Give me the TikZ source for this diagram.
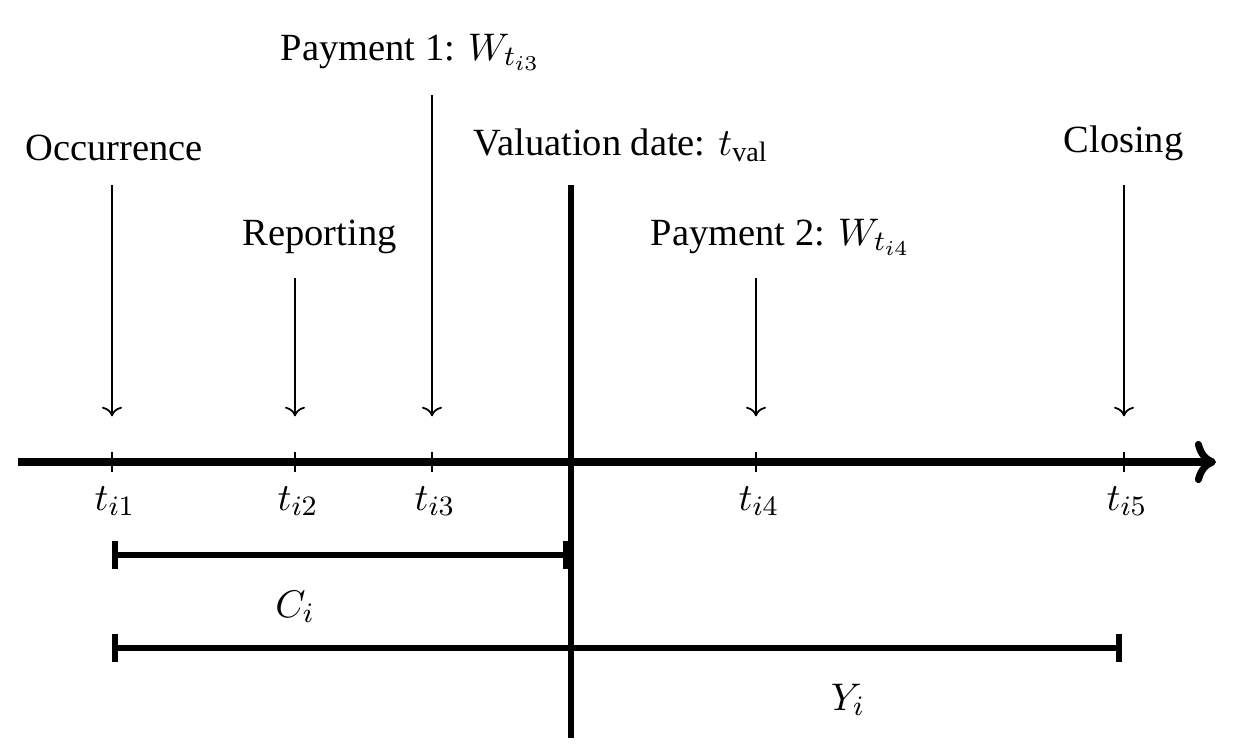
\documentclass[11pt,tikz,border=0pt]{standalone}
\usepackage{amsmath}
\usepackage[no-math]{fontspec}
\setmainfont{Liberation Serif}
\usetikzlibrary{arrows.meta}

\begin{document}
\begin{tikzpicture}[
  every node/.style={inner sep=0pt},
  evt/.style={->, line width=0.5pt},
  tick/.style={line width=0.5pt},
  span/.style={{Bar[width=8pt]}-{Bar[width=8pt]}, line width=1.6pt}]
\useasboundingbox (0,0) rectangle (12.58,-7.44);
% time axis
\coordinate (ax0) at (0.18,-4.62);
\coordinate (ax1) at (12.16,-4.62);
\draw[line width=2pt, -{Computer Modern Rightarrow[length=6pt,width=12pt]}] (ax0) -- (ax1);
\coordinate (t1) at (1.12,-4.62);
\coordinate (t2) at (2.95,-4.62);
\coordinate (t3) at (4.32,-4.62);
\coordinate (t4) at (7.56,-4.62);
\coordinate (t5) at (11.24,-4.62);
\draw[tick] ([yshift=2.8pt]t1) -- ([yshift=-2.8pt]t1);
\draw[tick] ([yshift=2.8pt]t2) -- ([yshift=-2.8pt]t2);
\draw[tick] ([yshift=2.8pt]t3) -- ([yshift=-2.8pt]t3);
\draw[tick] ([yshift=2.8pt]t4) -- ([yshift=-2.8pt]t4);
\draw[tick] ([yshift=2.8pt]t5) -- ([yshift=-2.8pt]t5);
\node[anchor=base] (lt1) at (1.15,-5.10) {$t_{i1}$};
\node[anchor=base] (lt2) at (2.98,-5.10) {$t_{i2}$};
\node[anchor=base] (lt3) at (4.35,-5.10) {$t_{i3}$};
\node[anchor=base] (lt4) at (7.59,-5.10) {$t_{i4}$};
\node[anchor=base] (lt5) at (11.27,-5.10) {$t_{i5}$};
% valuation date
\coordinate (v0) at (5.71,-1.85);
\coordinate (v1) at (5.71,-7.38);
\draw[line width=1.6pt] (v0) -- (v1);
\node[anchor=base west] (val) at (4.73,-1.55) {Valuation date: $t_{\text{val}}$};
% events
\node[anchor=base west] (occ) at (0.25,-1.60) {Occurrence};
\node[anchor=base west] (rep) at (2.42,-2.45) {Reporting};
\node[anchor=base west] (payA) at (2.80,-0.60) {Payment 1: $W_{t_{i3}}$};
\node[anchor=base west] (payB) at (6.50,-2.45) {Payment 2: $W_{t_{i4}}$};
\node[anchor=base west] (clo) at (10.63,-1.52) {Closing};
\coordinate (occ top) at (1.12,-1.85);
\coordinate (rep top) at (2.95,-2.78);
\coordinate (payA top) at (4.32,-0.95);
\coordinate (payB top) at (7.56,-2.78);
\coordinate (clo top) at (11.24,-1.85);
\draw[evt] (occ top) -- ([yshift=13pt]t1);
\draw[evt] (rep top) -- ([yshift=13pt]t2);
\draw[evt] (payA top) -- ([yshift=13pt]t3);
\draw[evt] (payB top) -- ([yshift=13pt]t4);
\draw[evt] (clo top) -- ([yshift=13pt]t5);
% spans
\coordinate (c0) at (1.12,-5.55);
\coordinate (c1) at (5.69,-5.55);
\draw[span] (c0) -- (c1);
\node[anchor=base] (ci) at (2.95,-6.17) {$C_i$};
\coordinate (y0) at (1.12,-6.48);
\coordinate (y1) at (11.22,-6.48);
\draw[span] (y0) -- (y1);
\node[anchor=base] (yi) at (8.48,-7.10) {$Y_i$};
\end{tikzpicture}
\end{document}
